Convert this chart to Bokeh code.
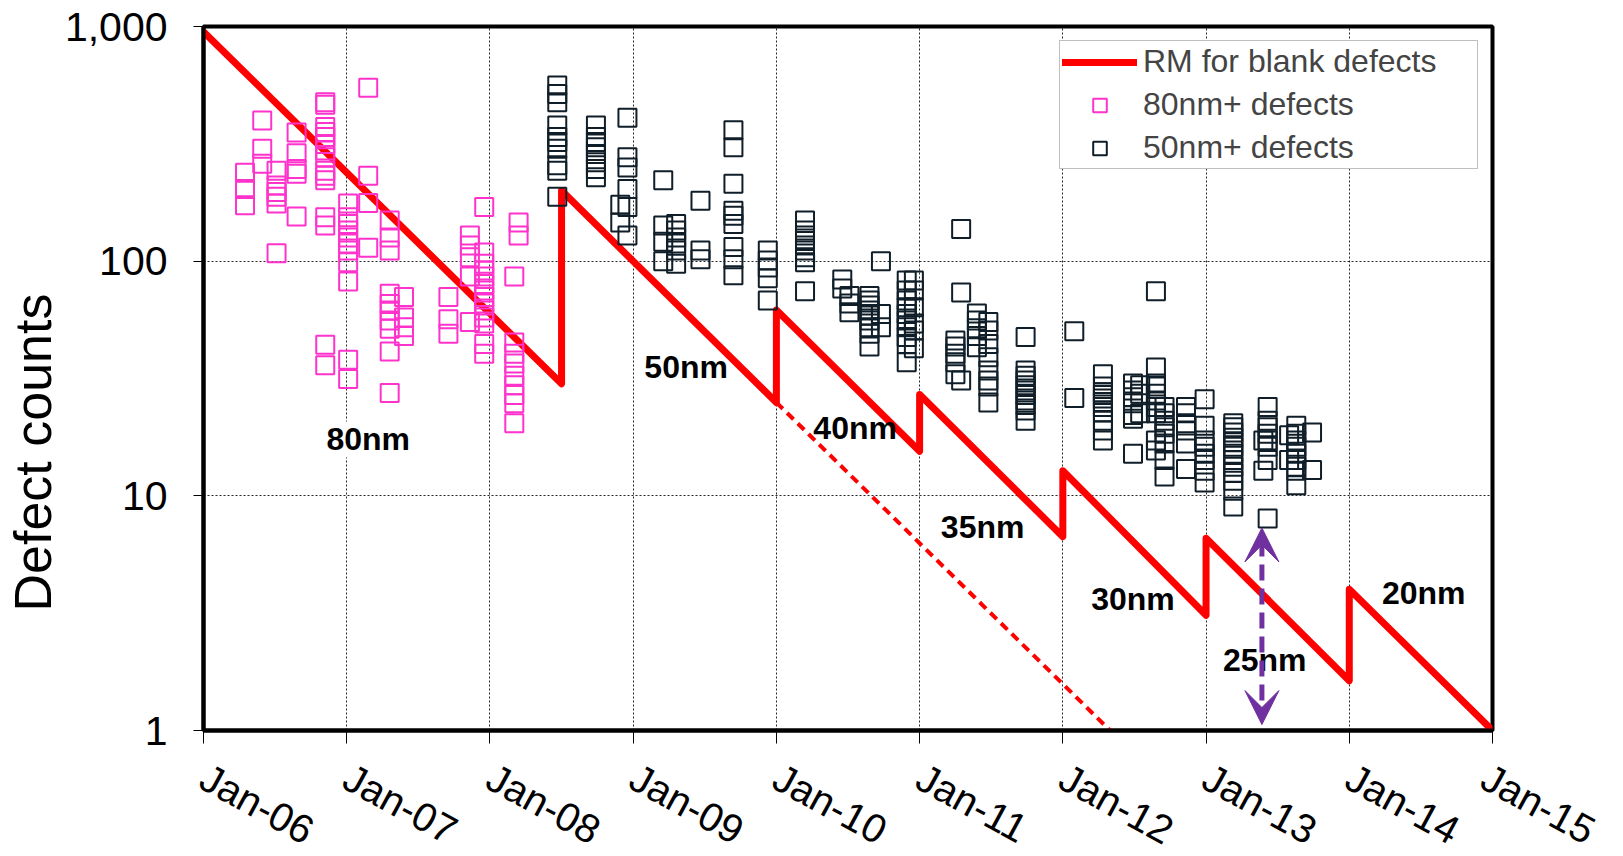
import math
from bokeh.plotting import figure
from bokeh.models import Range1d, FixedTicker, Legend, LegendItem, Label, Arrow, VeeHead, Title
from bokeh.embed import file_html
from bokeh.resources import INLINE

# ---------------- data ----------------
x_ticks = [2006, 2007, 2008, 2009, 2010, 2011, 2012, 2013, 2014, 2015]
x_tick_labels = ["Jan-06", "Jan-07", "Jan-08", "Jan-09", "Jan-10",
                 "Jan-11", "Jan-12", "Jan-13", "Jan-14", "Jan-15"]
y_ticks = [1, 10, 100, 1000]
y_tick_labels = ["1", "10", "100", "1,000"]
y_axis_title = "Defect counts"

# roadmap (RM) for blank defects: sawtooth
rm_year = [2006.0, 2008.5, 2008.5, 2010.0, 2010.0, 2011.0, 2011.0,
           2012.0, 2012.0, 2013.0, 2013.0, 2014.0, 2014.0, 2015.0]
rm_count = [950, 30, 200, 25, 62, 15.5, 27, 6.7, 12.8, 3.1, 6.6, 1.63, 4.0, 1.0]

# dashed extension of the 50nm roadmap
rm_ext_year = [2010.0, 2012.33]
rm_ext_count = [25, 1.0]

# 80nm+ defects (magenta squares)
pink_year = (
    [2006.29] * 3 + [2006.41] * 3 + [2006.51] * 6 + [2006.65] * 5 +
    [2006.85] * 15 + [2007.01] * 11 + [2007.15] * 4 + [2007.30] * 10 +
    [2007.40] * 4 + [2007.71] * 3 + [2007.86] * 5 + [2007.96] * 14 +
    [2008.17] * 9 + [2008.20] * 2
)
pink_count = [
    238, 203, 173,
    398, 301, 260,
    243, 210, 197, 188, 176, 108,
    353, 288, 247, 236, 155,
    476, 464, 373, 355, 338, 316, 296, 277, 243, 231, 221, 154, 142, 44, 36,
    176, 154, 144, 135, 126, 119, 111, 99, 82, 38, 31.5,
    548, 231, 177, 114,
    149, 126, 111, 72.6, 65.7, 61.7, 55.9, 51.5, 41.2, 27.4,
    70.3, 57.6, 52.3, 48,
    70.3, 56.6, 49,
    128.5, 116.5, 104, 86, 55,
    170, 109, 97.5, 91.3, 86, 80, 75, 70.3, 66, 61.7, 57.6, 54.2, 44.4, 40.3,
    86, 45, 40.3, 36.6, 32.5, 29.6, 26.9, 24.8, 20.4,
    146, 128.5,
]

# 50nm+ defects (dark squares)
dark_year = (
    [2008.47] * 10 + [2008.74] * 8 + [2008.96] * 6 + [2008.91] * 2 +
    [2009.21] * 4 + [2009.30] * 6 + [2009.47] * 3 + [2009.70] * 9 +
    [2009.94] * 5 + [2010.20] * 9 + [2010.46] * 2 + [2010.51] * 3 +
    [2010.65] * 9 + [2010.73] * 3 + [2010.91] * 10 + [2010.96] * 6 +
    [2011.29] * 3 + [2011.25] * 5 + [2011.40] * 5 + [2011.48] * 8 +
    [2011.74] * 11 + [2012.08] * 2 + [2012.28] * 11 + [2012.49] * 7 +
    [2012.54] * 3 + [2012.65] * 10 + [2012.71] * 8 + [2012.86] * 6 +
    [2012.99] * 8 + [2013.19] * 13 + [2013.43] * 8 + [2013.40] * 2 +
    [2013.63] * 9 + [2013.58] * 2 + [2013.74] * 2
)
dark_count = [
    561, 516, 476, 379, 338, 322, 301, 256, 243, 188,
    379, 338, 322, 306, 286, 264, 247, 228,
    408, 277, 251, 203, 170, 128.5,
    174, 146,
    221, 142, 121, 100,
    144, 135, 126, 119, 111, 97.5,
    181, 111, 102,
    361, 306, 214, 164, 156, 144, 115, 102, 87,
    111, 100.7, 94, 84.5, 68,
    149, 135, 128.5, 122, 116.5, 111, 104, 99, 74.5,
    83.5, 76.5,
    71, 66, 60.6,
    71, 68, 64.7, 61.7, 58.7, 55.9, 52.3, 49, 43.3,
    100, 59.6, 52.3,
    82.7, 75, 68, 63.6, 59.6, 55.9, 52.3, 47.5, 44.4, 37.1,
    82.7, 75, 63.6, 54.2, 50.7, 42.6,
    137, 73.5, 31,
    45.9, 43.3, 40.3, 37.1, 33.0,
    59.8, 55.9, 51.8, 48, 43,
    55, 50.7, 44.4, 39, 34.2, 31, 29.2, 25,
    47.5, 34.2, 32.5, 31, 29.6, 28.1, 26.9, 25.5, 24.4, 23.1, 20.9,
    50.3, 26.1,
    33, 29.2, 27.6, 26.9, 26, 25.1, 23.9, 22.7, 20.9, 19.0, 17.2,
    30.1, 28.1, 26.3, 24.8, 22.1, 21.3, 15.1,
    29.6, 27.2, 22.5,
    74.5, 35.2, 30.1, 29.2, 27.2, 25.5, 23.9, 22.5, 17.2, 15.6,
    23.9, 22.5, 20.9, 19.6, 18.4, 16.7, 14.2, 12.1,
    23.9, 22.5, 20.4, 19.0, 16.7, 13.0,
    25.8, 19.9, 17.2, 16.2, 15.1, 14.2, 12.8, 11.4,
    20.4, 19.6, 18.6, 17.7, 16.9, 16.2, 15.1, 14.2, 13.3, 12.5, 11.6, 10.5, 9.0,
    23.9, 20.9, 19.6, 18.4, 17.2, 16.2, 14.2, 8.0,
    17.2, 12.8,
    19.9, 18.4, 17.2, 16.2, 15.1, 14.2, 13.3, 12.8, 11.1,
    18.1, 14.2,
    18.6, 12.9,
]

# node labels
node_text = ["80nm", "50nm", "40nm", "35nm", "30nm", "25nm", "20nm"]
node_year = [2007.15, 2009.37, 2010.55, 2011.44, 2012.49, 2013.41, 2014.52]
node_count = [17.4, 35.5, 19.5, 7.4, 3.65, 2.0, 3.84]

# gap arrow
gap_year = 2013.39
gap_top = 7.3
gap_bottom = 1.06

legend_labels = ["RM for blank defects", "80nm+ defects", "50nm+ defects"]

# ---------------- style ----------------
FONT = "Liberation Sans"
RED = "#FF0000"
PINK = "#FF33CC"
DARK = "#0F1E28"
PURPLE = "#7030A0"

p = figure(frame_width=1289, frame_height=704,
           x_range=Range1d(2006, 2015), y_range=Range1d(1, 1000),
           y_axis_type="log", output_backend="svg", toolbar_location=None,
           min_border_left=203, min_border_top=26, min_border_right=110,
           min_border_bottom=0)
p.background_fill_color = "white"
p.border_fill_color = "white"
p.outline_line_color = "black"
p.outline_line_width = 4

p.xaxis.ticker = FixedTicker(ticks=x_ticks)
p.xaxis.major_label_overrides = {t: l for t, l in zip(x_ticks, x_tick_labels)}
p.yaxis.ticker = FixedTicker(ticks=y_ticks)
p.yaxis.major_label_overrides = {t: l for t, l in zip(y_ticks, y_tick_labels)}

for ax in (p.xaxis[0], p.yaxis[0]):
    ax.axis_line_color = "black"
    ax.axis_line_width = 4
    ax.major_tick_line_color = "black"
    ax.major_tick_line_width = 1
    ax.major_tick_in = 0
    ax.minor_tick_line_color = None
    ax.major_label_text_font = FONT
    ax.major_label_text_color = "black"

p.yaxis.major_tick_out = 10
p.yaxis.major_label_text_font_size = "41px"
p.yaxis.major_label_standoff = 26
p.xaxis.major_tick_out = 13
p.xaxis.major_label_text_font_size = "40px"
p.xaxis.major_label_orientation = -0.5
p.xaxis.major_label_standoff = 31

p.grid.grid_line_color = "black"
p.grid.grid_line_dash = "2 2"
p.grid.grid_line_width = 1
p.grid.grid_line_alpha = 0.85

ext = p.line(rm_ext_year, rm_ext_count, line_color=RED, line_width=4, line_dash="9 6")
rm = p.line(rm_year, rm_count, line_color=RED, line_width=7,
            line_join="round", line_cap="round")
pink = p.scatter(pink_year, pink_count, marker="square", size=18,
                 fill_color=None, line_color=PINK, line_width=2)
dark = p.scatter(dark_year, dark_count, marker="square", size=18,
                 fill_color=None, line_color=DARK, line_width=2)

for i, (t, xx, yy) in enumerate(zip(node_text, node_year, node_count)):
    p.add_layout(Label(x=xx, y=yy, text=t, text_font=FONT, text_font_style="bold",
                       text_font_size="32px", text_color="black",
                       text_align="center", text_baseline="middle",
                       background_fill_color="white" if i == 0 else None))

head = dict(size=34, fill_color=PURPLE, line_color=PURPLE)
p.add_layout(Arrow(start=VeeHead(**head), end=VeeHead(**head),
                   x_start=gap_year, y_start=gap_bottom,
                   x_end=gap_year, y_end=gap_top,
                   line_color=PURPLE, line_width=5, line_dash="16 8"))

ytitle = Title(text=y_axis_title, align="left", offset=119, standoff=0,
               text_font=FONT, text_font_size="52px", text_font_style="normal",
               text_color="black")
p.add_layout(ytitle, "left")

legend = Legend(items=[LegendItem(label=legend_labels[0], renderers=[rm]),
                       LegendItem(label=legend_labels[1], renderers=[pink]),
                       LegendItem(label=legend_labels[2], renderers=[dark])],
                location="top_right")
legend.label_text_font = FONT
legend.label_text_font_size = "32px"
legend.border_line_color = "#7F7F7F"
legend.border_line_width = 1.5
legend.background_fill_color = "white"
legend.background_fill_alpha = 1
legend.padding = 2
legend.spacing = 6
legend.glyph_width = 75
legend.glyph_height = 34
legend.label_height = 34
legend.label_width = 332
legend.label_standoff = 6
legend.margin = 14
p.add_layout(legend)

open("out.html", "w").write(file_html(p, INLINE))
